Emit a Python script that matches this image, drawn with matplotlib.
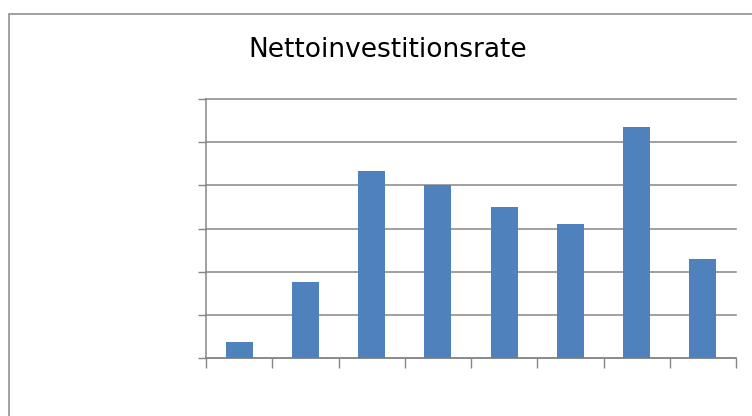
import matplotlib
matplotlib.use("Agg")
import matplotlib.pyplot as plt
from matplotlib.patches import Rectangle

title = "Nettoinvestitionsrate"
categories = ["1", "2", "3", "4", "5", "6", "7", "8"]
values = [0.36, 1.76, 4.33, 4.0, 3.5, 3.1, 5.34, 2.3]

fig = plt.figure(figsize=(7.52, 4.16), dpi=100)
W, H = 752, 416
ax = fig.add_axes([206 / W, (H - 358) / H, (736 - 206) / W, (358 - 99) / H])

gray = "#868686"
x = list(range(len(categories)))
ax.bar(x, values, width=0.41, color="#4F81BD", zorder=3)

ax.set_xlim(-0.5, len(categories) - 0.5)
ax.set_ylim(0, 6)
ax.set_yticks(range(0, 7))
ax.set_xticks([i - 0.5 for i in range(len(categories) + 1)])
ax.set_xticklabels([])
ax.set_yticklabels([])
ax.yaxis.grid(True, color=gray, linewidth=1.1, zorder=0)
for gl in ax.get_ygridlines():
    gl.set_clip_on(False)
ax.tick_params(axis="y", direction="out", length=6, width=1.0, color=gray)
ax.tick_params(axis="x", direction="out", length=7.5, width=1.0, color=gray)
for s in ["top", "right"]:
    ax.spines[s].set_visible(False)
for s in ["left", "bottom"]:
    ax.spines[s].set_color(gray)
    ax.spines[s].set_linewidth(1.1)

fig.text(388 / W, 1 - 50 / H, title, ha="center", va="center",
         fontsize=19, family="DejaVu Sans", color="black")

border = Rectangle((8.5 / W, -0.1), 1.0, 1.1 - 14.5 / H, transform=fig.transFigure,
                   fill=False, edgecolor=gray, linewidth=1.1)
fig.patches.append(border)

fig.savefig("out.png", dpi=100)
